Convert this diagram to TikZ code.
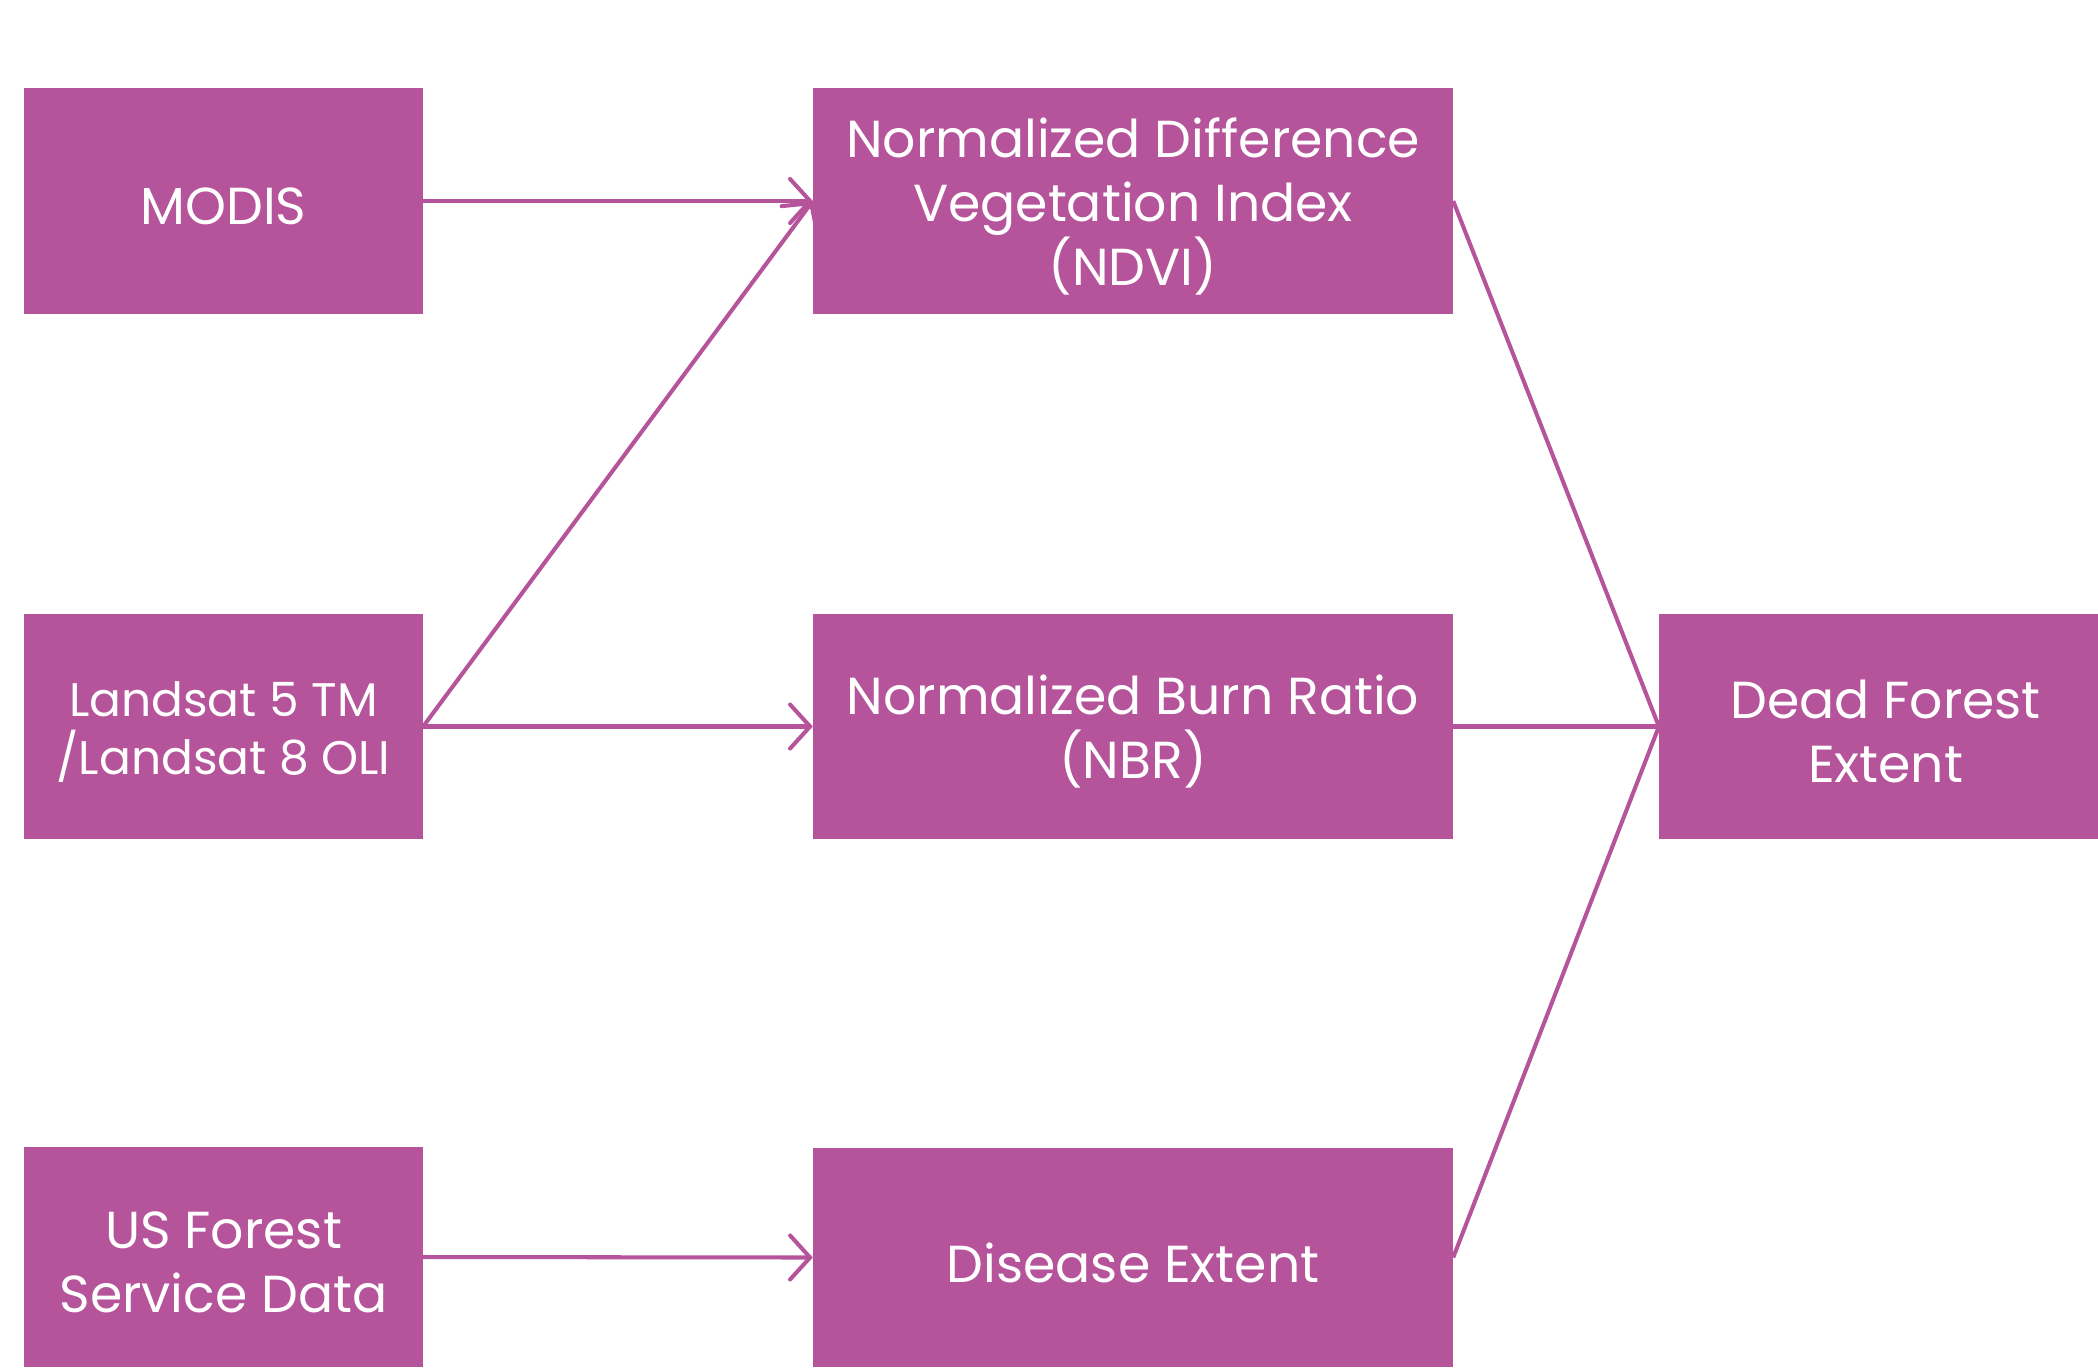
\documentclass[tikz,border=0pt]{standalone}
\usepackage{fontspec}
\setmainfont{Poppins}
\usetikzlibrary{arrows.meta}
\definecolor{boxpurple}{RGB}{181,83,155}
\tikzset{
  box/.style={fill=boxpurple, draw=none, inner sep=0pt, outer sep=0pt},
  boxtext/.style={align=center, text=white, inner sep=0pt, yshift=-1.5pt,
    font=\fontsize{14.8}{18.2}\selectfont},
  smalltext/.style={boxtext, font=\fontsize{13.4}{16.4}\selectfont},
  conn/.style={draw=boxpurple, line width=1.15pt},
  arr/.style={conn, -{Straight Barb[length=0.2cm,width=0.44cm,line width=1.15pt,line cap=round]}}
}
\begin{document}
\begin{tikzpicture}[x=0.01cm,y=-0.01cm]
\useasboundingbox (0,0) rectangle (2098,1367);
\node[box, minimum width=3.99cm, minimum height=2.26cm,
  label={[boxtext]center:MODIS}] (modis) at (223.5,201) {};
\node[box, minimum width=3.99cm, minimum height=2.25cm,
  label={[smalltext]center:Landsat 5 TM\\/Landsat 8 OLI}] (landsat) at (223.5,726.5) {};
\node[box, minimum width=3.99cm, minimum height=2.20cm,
  label={[boxtext]center:US Forest\\Service Data}] (usfs) at (223.5,1257) {};
\node[box, minimum width=6.40cm, minimum height=2.26cm,
  label={[boxtext]center:Normalized Difference\\Vegetation Index\\(NDVI)}] (ndvi) at (1133,201) {};
\node[box, minimum width=6.40cm, minimum height=2.25cm,
  label={[boxtext]center:Normalized Burn Ratio\\(NBR)}] (nbr) at (1133,726.5) {};
\node[box, minimum width=6.40cm, minimum height=2.19cm,
  label={[boxtext]center:Disease Extent}] (disease) at (1133,1257.5) {};
\node[box, minimum width=4.39cm, minimum height=2.25cm,
  label={[boxtext, xshift=2pt]center:Dead Forest\\Extent}] (dead) at (1878.5,726.5) {};
\draw[arr] (modis.east) -- (ndvi.west);
\draw[arr] (landsat.east) -- (ndvi.west);
\draw[arr] (landsat.east) -- (nbr.west);
\draw[arr] (usfs.east) -- (disease.west);
\draw[conn] (ndvi.east) -- (dead.west);
\draw[conn] (nbr.east) -- (dead.west);
\draw[conn] (disease.east) -- (dead.west);
\end{tikzpicture}
\end{document}
